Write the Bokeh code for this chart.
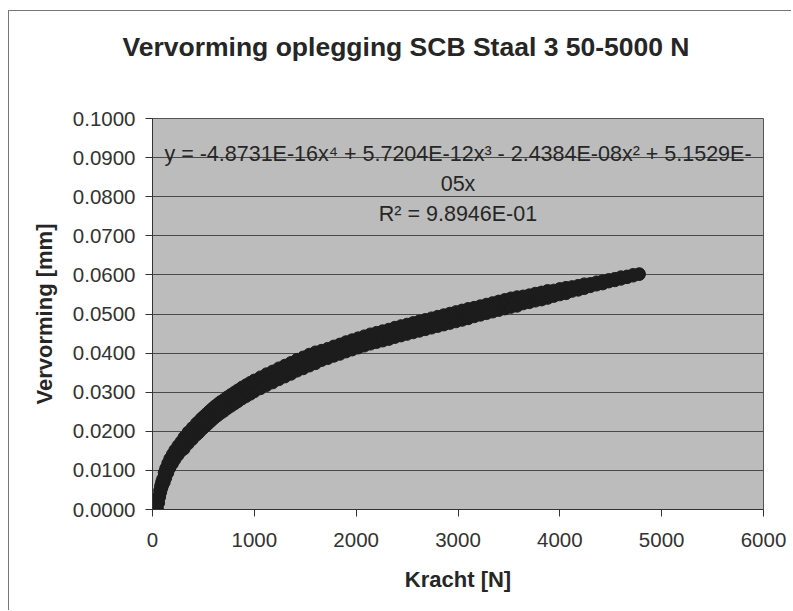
from bokeh.plotting import figure
from bokeh.models import Range1d, FixedTicker, NumeralTickFormatter, Label, ColumnDataSource, Title
from bokeh.embed import file_html
from bokeh.resources import INLINE

title_text = "Vervorming oplegging SCB Staal 3 50-5000 N"
x_label = "Kracht [N]"
y_label = "Vervorming [mm]"
x_ticks = [0, 1000, 2000, 3000, 4000, 5000, 6000]
y_ticks = [0.0, 0.01, 0.02, 0.03, 0.04, 0.05, 0.06, 0.07, 0.08, 0.09, 0.1]
eq_line1 = "y = -4.8731E-16x\u2074 + 5.7204E-12x\u00b3 - 2.4384E-08x\u00b2 + 5.1529E-"
eq_line2 = "05x"
eq_line3 = "R\u00b2 = 9.8946E-01"

# Kracht [N] (shared by loading and unloading readings)
kracht = [50, 60, 70, 80, 90, 100, 115, 130, 150, 170, 195, 220, 250, 280, 310, 350, 390, 430,
          455, 480, 505, 530, 555, 580, 610, 640, 670, 700, 735, 770, 805, 840, 880, 920, 960,
          1000, 1060, 1120, 1180, 1240, 1300, 1360, 1420, 1480, 1540, 1600, 1660, 1720, 1780,
          1840, 1900, 1960, 2020, 2080, 2140, 2200, 2260, 2320, 2380, 2440, 2500, 2560, 2620,
          2680, 2740, 2800, 2860, 2920, 2980, 3040, 3100, 3160, 3220, 3280, 3340, 3400, 3460,
          3520, 3580, 3640, 3700, 3760, 3820, 3880, 3940, 4000, 4060, 4120, 4180, 4240, 4300,
          4360, 4420, 4480, 4540, 4600, 4660, 4720, 4780]

# Vervorming [mm], loading branch (lower edge of band)
vervorming_belasten = [0.0000, 0.0017, 0.0032, 0.0044, 0.0054, 0.0062, 0.0070, 0.0081, 0.0094,
                       0.0106, 0.0117, 0.0128, 0.0139, 0.0149, 0.0155, 0.0168, 0.0179, 0.0190,
                       0.0196, 0.0203, 0.0209, 0.0215, 0.0221, 0.0227, 0.0234, 0.0240, 0.0246,
                       0.0251, 0.0258, 0.0264, 0.0270, 0.0276, 0.0283, 0.0289, 0.0295,
                       0.0301, 0.0309, 0.0317, 0.0324, 0.0332, 0.0339, 0.0346, 0.0354, 0.0360,
                       0.0367, 0.0373, 0.0381, 0.0386, 0.0392, 0.0397, 0.0403, 0.0408, 0.0413,
                       0.0418, 0.0423, 0.0427, 0.0431, 0.0435, 0.0440, 0.0444, 0.0448, 0.0452,
                       0.0456, 0.0460, 0.0464, 0.0468, 0.0472, 0.0476, 0.0480, 0.0484, 0.0488,
                       0.0493, 0.0497, 0.0501, 0.0505, 0.0509, 0.0513, 0.0517, 0.0520, 0.0526,
                       0.0529, 0.0533, 0.0536, 0.0540, 0.0545, 0.0549, 0.0552, 0.0558, 0.0561,
                       0.0565, 0.0570, 0.0574, 0.0577, 0.0582, 0.0585, 0.0589, 0.0593, 0.0597,
                       0.0601]

# Vervorming [mm], unloading branch (upper edge of band)
vervorming_ontlasten = [0.0016, 0.0033, 0.0048, 0.0060, 0.0070, 0.0078, 0.0094, 0.0105, 0.0118,
                        0.0130, 0.0141, 0.0152, 0.0163, 0.0173, 0.0185, 0.0198, 0.0209, 0.0220,
                        0.0226, 0.0233, 0.0239, 0.0245, 0.0251, 0.0257, 0.0264, 0.0270, 0.0276,
                        0.0281, 0.0288, 0.0294, 0.0300, 0.0306, 0.0313, 0.0319, 0.0325,
                        0.0331, 0.0339, 0.0347, 0.0354, 0.0362, 0.0369, 0.0376, 0.0384, 0.0390,
                        0.0397, 0.0403, 0.0407, 0.0412, 0.0418, 0.0423, 0.0429, 0.0434, 0.0439,
                        0.0444, 0.0449, 0.0453, 0.0457, 0.0461, 0.0466, 0.0470, 0.0474, 0.0478,
                        0.0482, 0.0486, 0.0490, 0.0494, 0.0498, 0.0502, 0.0506, 0.0510, 0.0514,
                        0.0517, 0.0521, 0.0525, 0.0529, 0.0533, 0.0537, 0.0541, 0.0544, 0.0546,
                        0.0549, 0.0553, 0.0556, 0.0560, 0.0561, 0.0565, 0.0568, 0.0570, 0.0573,
                        0.0577, 0.0578, 0.0582, 0.0585, 0.0588, 0.0591, 0.0595, 0.0597, 0.0601,
                        0.0603]

FONT = "Liberation Sans"

p = figure(width=783, height=600, output_backend="svg", toolbar_location=None, title=None,
           x_range=Range1d(0, 6000), y_range=Range1d(0, 0.1),
           min_border_left=143, min_border_right=29, min_border_top=107, min_border_bottom=102)
p.styles = {"margin-left": "8px", "margin-top": "10px",
            "border-left": "1px solid #777777", "border-top": "1px solid #777777"}

# empty spacer title next to the frame, then the real chart title above it
p.add_layout(Title(text=" ", text_font_size="10px", standoff=26), "above")
p.add_layout(Title(text=title_text, align="left", offset=-30, standoff=36,
                   text_font=FONT, text_font_size="26.5px", text_font_style="bold",
                   text_color="#262626"), "above")

p.background_fill_color = "#bcbcbc"
p.border_fill_color = "white"
p.outline_line_color = "#555555"

p.xgrid.visible = False
p.ygrid.ticker = FixedTicker(ticks=y_ticks)
p.ygrid.grid_line_color = "#4a4a4a"
p.ygrid.grid_line_width = 1

for ax in (p.xaxis[0], p.yaxis[0]):
    ax.axis_line_color = "#333333"
    ax.major_tick_line_color = "#333333"
    ax.major_tick_out = 7
    ax.major_tick_in = 0
    ax.minor_tick_out = 0
    ax.minor_tick_in = 0
    ax.major_label_text_font = FONT
    ax.major_label_text_font_size = "20.5px"
    ax.major_label_text_color = "#333333"
    ax.axis_label_text_font = FONT
    ax.axis_label_text_font_size = "22px"
    ax.axis_label_text_font_style = "bold"
    ax.axis_label_text_color = "#262626"

p.xaxis.ticker = FixedTicker(ticks=x_ticks)
p.yaxis.ticker = FixedTicker(ticks=y_ticks)
p.yaxis.formatter = NumeralTickFormatter(format="0.0000")
p.xaxis.axis_label = x_label
p.yaxis.axis_label = y_label
p.xaxis.major_label_standoff = 16
p.yaxis.major_label_standoff = 10
p.xaxis.axis_label_standoff = 17
p.yaxis.axis_label_standoff = 13

src_load = ColumnDataSource(dict(x=kracht, y=vervorming_belasten))
src_unload = ColumnDataSource(dict(x=kracht, y=vervorming_ontlasten))
p.scatter("x", "y", source=src_load, size=12, marker="circle",
          fill_color="#1c1c1c", line_color="#1c1c1c")
p.scatter("x", "y", source=src_unload, size=12, marker="circle",
          fill_color="#1c1c1c", line_color="#1c1c1c")

for txt, yv in ((eq_line1, 0.0910), (eq_line2, 0.0833), (eq_line3, 0.0756)):
    p.add_layout(Label(x=3000, y=yv, text=txt, text_align="center",
                       text_baseline="alphabetic", text_font=FONT,
                       text_font_size="21.5px", text_color="#262626"))

open("out.html", "w").write(file_html(p, INLINE))
